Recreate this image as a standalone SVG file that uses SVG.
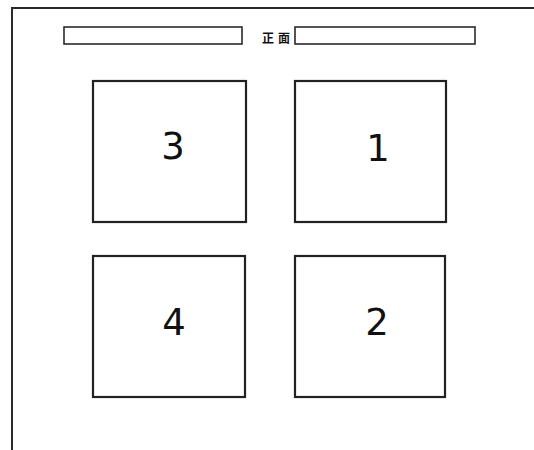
<svg xmlns="http://www.w3.org/2000/svg" width="534" height="450" viewBox="0 0 534 450">
<style>
.frame{fill:none;stroke:#2a2a2a;stroke-width:2}
.bar{fill:#fff;stroke:#2a2a2a;stroke-width:1.6}
.box{fill:#fff;stroke:#222;stroke-width:2.2}
.num{font-family:"DejaVu Sans","Noto Sans",sans-serif;font-size:37px;fill:#111;text-anchor:middle}
.lbl{font-family:"Noto Sans CJK JP","Noto Sans CJK SC",sans-serif;font-size:12px;font-weight:bold;fill:#111;text-anchor:middle;letter-spacing:4px}
</style>
<rect width="534" height="450" fill="#fff"/>
<g id="frame">
<path class="frame" d="M12,450 V8 H534"/>
</g>
<g id="front">
<rect class="bar" x="64" y="27" width="178" height="17"/>
<rect class="bar" x="295" y="27" width="180" height="17"/>
<text class="lbl" x="278" y="43">正面</text>
</g>
<g id="node3">
<rect class="box" x="93" y="81" width="153" height="141"/>
<text class="num" x="173" y="159">3</text>
</g>
<g id="node1">
<rect class="box" x="295" y="81" width="151" height="141"/>
<text class="num" x="378" y="161">1</text>
</g>
<g id="node4">
<rect class="box" x="93" y="256" width="152" height="141"/>
<text class="num" x="174" y="335">4</text>
</g>
<g id="node2">
<rect class="box" x="295" y="256" width="150" height="141"/>
<text class="num" x="377" y="335">2</text>
</g>
<g id="connectors"/>
</svg>
